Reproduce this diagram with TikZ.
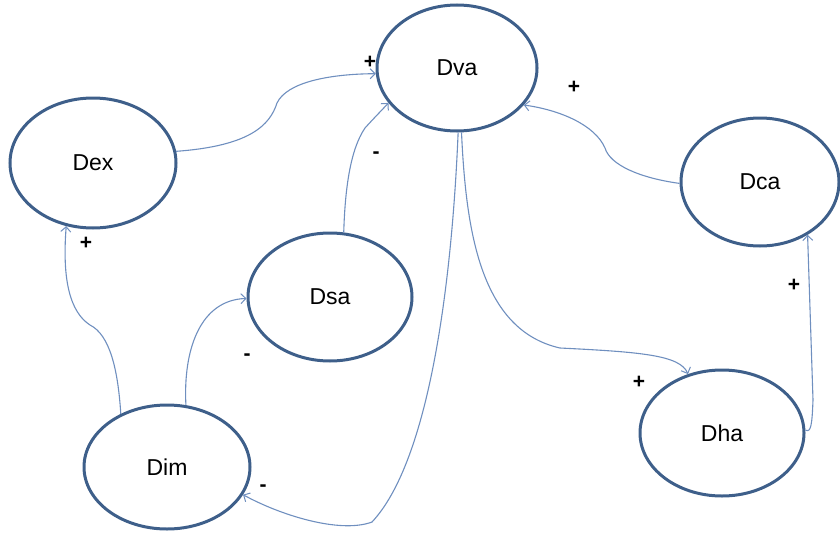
\documentclass[tikz,border=0pt]{standalone}
\usepackage{fontspec}
\setmainfont{Liberation Sans}
\usetikzlibrary{shapes.geometric,arrows.meta}
\definecolor{rim}{HTML}{3E5F8A}
\definecolor{link}{HTML}{6F8FBF}
\begin{document}
\begin{tikzpicture}[x=1pt,y=-1pt,
  state/.style={ellipse,draw=rim,line width=3pt,inner sep=0pt,
    font=\fontsize{23}{26}\selectfont},
  link/.style={draw=link,line width=1.1pt,
    -{Straight Barb[length=5pt,width=10pt,line width=1pt]}},
  sign/.style={font=\fontsize{21}{23}\selectfont\bfseries}]
\useasboundingbox (0,0) rectangle (840,535);
\node[state,minimum width=160pt,minimum height=126pt] (dva) at (457,68) {Dva};
\node[state,minimum width=166pt,minimum height=130pt] (dex) at (93,163) {Dex};
\node[state,minimum width=158pt,minimum height=128pt] (dca) at (760,182) {Dca};
\node[state,minimum width=164pt,minimum height=128pt] (dsa) at (330,297) {Dsa};
\node[state,minimum width=166pt,minimum height=124pt] (dim) at (167,467) {Dim};
\node[state,minimum width=164pt,minimum height=126pt] (dha) at (722,433) {Dha};

% influences
\draw[link] (dex.8) .. controls (250,146) and (270,125) .. (277,103)
  .. controls (287,82) and (330,74) .. (dva.184);
\draw[link] (dsa.78) .. controls (345,190) and (350,150) .. (365,128)
  .. controls (374,118) and (382,110) .. (dva.207);
\draw[link] (dca.181) .. controls (640,178) and (610,165) .. (605,148)
  .. controls (595,125) and (560,110) .. (dva.331);
\draw[link] (dva.274) .. controls (466,230) and (480,330) .. (560,348)
  .. controls (640,352) and (680,355) .. (dha.120);
\draw[link] (dha.2) .. controls (811,433) and (812,425) .. (813,400)
  -- (dca.312);
\draw[link] (dim.131) .. controls (118,370) and (110,335) .. (90,325)
  .. controls (70,312) and (62,280) .. (dex.247);
\draw[link] (dim.73) .. controls (183,350) and (200,300) .. (dsa.181);
\draw[link] (dva.271) .. controls (452,280) and (430,460) .. (372,522)
  .. controls (340,534) and (280,515) .. (dim.340);

% polarity signs
\node[sign] (s1) at (370,62) {+};
\node[sign] (s2) at (574,87) {+};
\node[sign] (s3) at (376,155) {-};
\node[sign] (s4) at (86,243) {+};
\node[sign] (s5) at (247,357) {-};
\node[sign] (s6) at (263,488) {-};
\node[sign] (s7) at (639,382) {+};
\node[sign] (s8) at (794,285) {+};
\end{tikzpicture}
\end{document}
